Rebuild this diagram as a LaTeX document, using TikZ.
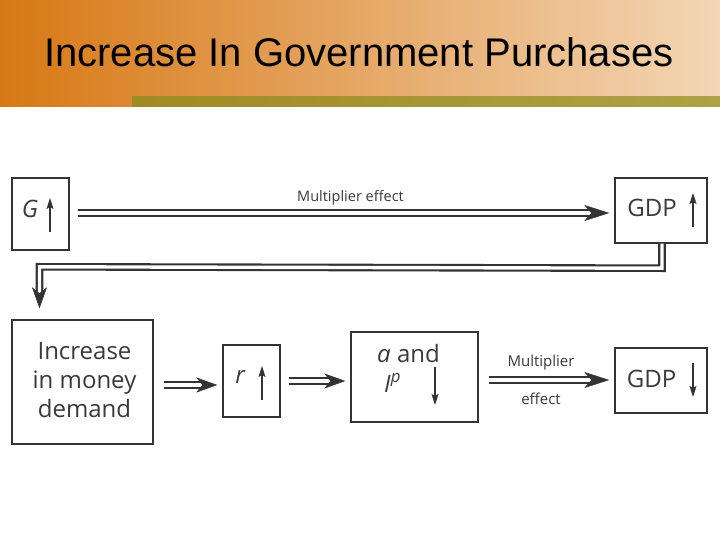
\documentclass[tikz,border=0pt]{standalone}
\usepackage{fontspec}
\setmainfont{Open Sans}
\newfontfamily\titlefont{Liberation Sans}
\usetikzlibrary{arrows.meta,calc}
\definecolor{orangeL}{HTML}{D77814}
\definecolor{peachR}{HTML}{F3D6B6}
\definecolor{oliveL}{HTML}{A08A22}
\definecolor{oliveR}{HTML}{AEA244}
\definecolor{ink}{HTML}{333333}
\definecolor{txt}{HTML}{3A3A3A}
\begin{document}
\begin{tikzpicture}[x=1pt,y=-1pt,
  box/.style={draw=ink, line width=1.4pt, inner sep=0pt, fill=white},
  lbl/.style={text=txt, inner sep=0pt, font=\fontsize{24}{29}\selectfont, anchor=base},
  itl/.style={lbl, font=\fontsize{24}{29}\selectfont\itshape},
  small/.style={text=txt, inner sep=0pt, font=\fontsize{15}{18}\selectfont, anchor=base},
  dbl/.style={draw=ink, line width=2.1pt, double=white, double distance=3.4pt},
  headbig/.style={white, line width=0.5pt, -{Stealth[length=25pt,width=16pt,inset=7pt,color=ink]}},
  headsmall/.style={white, line width=0.5pt, -{Stealth[length=21pt,width=15pt,inset=6pt,color=ink]}},
  glyph/.style={draw=ink, line width=1.1pt, -{Stealth[length=11pt,width=7pt,inset=2pt]}}
]
\useasboundingbox[fill=white] (0,0) rectangle (720,540);

% header
\shade[left color=orangeL, right color=peachR] (0,0) rectangle (720,107);
\shade[left color=oliveL, right color=oliveR] (132,97) rectangle (720,107);
\node[anchor=base west, inner sep=0pt, text=black,
      font=\titlefont\fontsize{40}{48}\selectfont] (title) at (44,67)
      {Increase In Government Purchases};

% boxes
\node[box, minimum width=57pt, minimum height=72pt] (g) at (40.5,214) {};
\node[box, minimum width=92pt, minimum height=65pt] (gdp1) at (661,210.5) {};
\node[box, minimum width=141pt, minimum height=124pt] (inc) at (82.5,382) {};
\node[box, minimum width=57pt, minimum height=72pt] (r) at (251.5,381) {};
\node[box, minimum width=127pt, minimum height=90pt] (ci) at (414.5,377) {};
\node[box, minimum width=92pt, minimum height=65pt] (gdp2) at (661,380.5) {};

% texts
\node[itl] (gt) at (30,218) {G};
\node[lbl] (gdp1t) at (652,217) {GDP};
\node[lbl, align=center, anchor=center] (inct) at (84.5,380.5) {Increase\\in money\\demand};
\node[itl] (rt) at (240,383) {r};
\node[lbl] (cit) at (408.5,362) {\textit{a} and};
\node[lbl, anchor=base west] (ipt) at (384,392) {\textit{I}\textsuperscript{\textit{p}}};
\node[lbl] (gdp2t) at (651.5,387) {GDP};
\node[small, font=\fontsize{14.5}{17}\selectfont] (m1) at (350.5,201.5) {Multiplier effect};
\node[small] (m2) at (541,366) {Multiplier};
\node[small] (m3) at (541,404) {effect};

% small glyph arrows
\draw[glyph] ($(g.center)+(9.5,18)$) -- ++(0,-34);
\draw[glyph] ($(gdp1.center)+(32,16.5)$) -- ++(0,-34);
\draw[glyph] ($(r.center)+(10.5,19)$) -- ++(0,-34);
\draw[glyph] ($(ci.center)+(20.5,-10)$) -- ++(0,38);
\draw[glyph] ($(gdp2.center)+(32,-17.5)$) -- ++(0,34);

% connector coordinates
\coordinate (a1) at ($(g.east |- 0,213)+(8,0)$);
\coordinate (a2) at ($(gdp1.west |- 0,213)+(-5,0)$);
\coordinate (b0) at ($(gdp1.south)+(1,0)$);
\coordinate (b1) at ($(b0)+(0,24.5)$);
\coordinate (b2) at ($(inc.north)+(-43,-52.5)$);
\coordinate (b3) at ($(inc.north)+(-43,-11)$);
\coordinate (c1) at ($(inc.east |- 0,385)+(10,0)$);
\coordinate (c2) at ($(r.west |- 0,385)+(-5,0)$);
\coordinate (d1) at ($(r.east |- 0,381)+(8,0)$);
\coordinate (d2) at ($(ci.west |- 0,381)+(-5,0)$);
\coordinate (e1) at ($(ci.east |- 0,380)+(10,0)$);
\coordinate (e2) at ($(gdp2.west |- 0,380)+(-5,0)$);

% double connectors
\draw[dbl, shorten >=18pt] (a1) -- (a2);
\draw[headbig] (a1) -- (a2);

\draw[dbl, shorten >=15pt] (b0) -- (b1) -- (b2) -- (b3);
\draw[headsmall] (b2) -- (b3);

\draw[dbl, shorten >=15pt] (c1) -- (c2);
\draw[headsmall] (c1) -- (c2);

\draw[dbl, shorten >=15pt] (d1) -- (d2);
\draw[headsmall] (d1) -- (d2);

\draw[dbl, shorten >=18pt] (e1) -- (e2);
\draw[headbig] (e1) -- (e2);
\end{tikzpicture}
\end{document}
